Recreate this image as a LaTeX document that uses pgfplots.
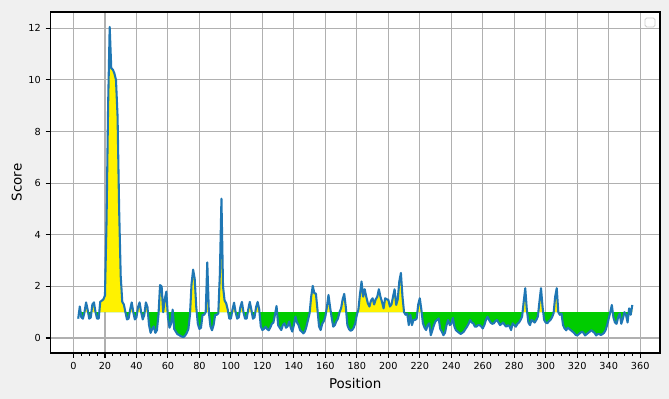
\documentclass[border=0pt]{standalone}
\usepackage{pgfplots}
\pgfplotsset{compat=1.18}
\usepackage{pgfplotstable}
\usepackage{fontspec}
\setmainfont{DejaVu Sans}
\definecolor{mplblue}{HTML}{1F77B4}
\definecolor{figbg}{HTML}{F0F0F0}
\definecolor{gridc}{HTML}{B0B0B0}
\definecolor{fillgreen}{HTML}{00CC00}
\pgfdeclarelayer{figbg}
\pgfplotsset{
  layers/mylayers/.define layer set={figbg,axis background,pre main,main,axis grid,axis ticks,axis lines,axis tick labels,axis descriptions,axis foreground}{},
}

\pgfplotstableread{
x y
3 0.75
4 1.22
5 0.8
6 0.75
7 1.0
8 1.38
9 1.1
10 0.75
11 0.8
12 1.3
13 1.38
14 1.0
15 0.75
16 0.75
17 1.4
18 1.45
19 1.5
20 1.65
21 4.5
22 9.0
23 12.05
24 10.45
25 10.4
26 10.25
27 10.0
28 8.6
29 5.0
30 2.4
31 1.4
32 1.3
33 1.0
34 0.72
35 0.75
36 1.1
37 1.38
38 1.0
39 0.72
40 0.8
41 1.2
42 1.38
43 1.0
44 0.72
45 0.9
46 1.38
47 1.2
48 0.5
49 0.2
50 0.35
51 0.45
52 0.2
53 0.3
54 0.9
55 2.05
56 2.0
57 1.0
58 1.5
59 1.8
60 0.8
61 0.4
62 0.55
63 1.1
64 0.35
65 0.25
66 0.15
67 0.12
68 0.08
69 0.05
70 0.04
71 0.1
72 0.2
73 0.35
74 0.9
75 2.1
76 2.65
77 2.3
78 1.2
79 0.55
80 0.35
81 0.4
82 0.9
83 0.9
84 1.0
85 2.93
86 1.0
87 0.45
88 0.3
89 0.5
90 0.9
91 0.9
92 0.95
93 2.5
94 5.4
95 2.0
96 1.45
97 1.35
98 1.1
99 0.75
100 0.75
101 1.1
102 1.37
103 1.0
104 0.75
105 0.8
106 1.2
107 1.4
108 1.0
109 0.75
110 0.75
111 1.1
112 1.4
113 1.1
114 0.75
115 0.8
116 1.2
117 1.4
118 1.1
119 0.45
120 0.31
121 0.35
122 0.44
123 0.35
124 0.3
125 0.4
126 0.55
127 0.6
128 0.9
129 1.24
130 0.5
131 0.4
132 0.31
133 0.5
134 0.57
135 0.4
136 0.45
137 0.64
138 0.4
139 0.25
140 0.5
141 0.83
142 0.6
143 0.5
144 0.3
145 0.25
146 0.18
147 0.25
148 0.45
149 0.7
150 0.96
151 1.6
152 2.02
153 1.74
154 1.72
155 1.1
156 0.45
157 0.31
158 0.55
159 0.65
160 0.83
161 1.2
162 1.67
163 1.2
164 0.8
165 0.44
166 0.5
167 0.65
168 0.75
169 1.0
170 1.15
171 1.5
172 1.71
173 1.2
174 0.5
175 0.35
176 0.28
177 0.31
178 0.4
179 0.57
180 0.9
181 1.1
182 1.7
183 2.19
184 1.6
185 1.89
186 1.6
187 1.35
188 1.22
189 1.45
190 1.54
191 1.3
192 1.5
193 1.6
194 1.89
195 1.6
196 1.4
197 1.15
198 1.54
199 1.5
200 1.48
201 1.22
202 1.3
203 1.6
204 1.89
205 1.28
206 1.5
207 2.2
208 2.52
209 1.61
210 1.0
211 0.9
212 0.95
213 0.5
214 0.9
215 0.5
216 0.7
217 0.7
218 0.75
219 1.3
220 1.54
221 1.1
222 0.57
223 0.4
224 0.31
225 0.5
226 0.57
227 0.11
228 0.3
229 0.5
230 0.65
231 0.7
232 0.76
233 0.35
234 0.25
235 0.11
236 0.2
237 0.5
238 0.7
239 0.5
240 0.55
241 0.78
242 0.44
243 0.3
244 0.25
245 0.2
246 0.16
247 0.2
248 0.25
249 0.35
250 0.44
251 0.55
252 0.7
253 0.6
254 0.57
255 0.44
256 0.44
257 0.5
258 0.5
259 0.45
260 0.37
261 0.5
262 0.7
263 0.83
264 0.7
265 0.6
266 0.55
267 0.57
268 0.65
269 0.7
270 0.6
271 0.5
272 0.55
273 0.6
274 0.5
275 0.44
276 0.5
277 0.45
278 0.31
279 0.57
280 0.5
281 0.44
282 0.55
283 0.6
284 0.7
285 0.83
286 1.4
287 1.93
288 1.1
289 0.6
290 0.5
291 0.7
292 0.65
293 0.6
294 0.7
295 0.83
296 1.4
297 1.93
298 1.2
299 0.7
300 0.6
301 0.57
302 0.65
303 0.7
304 0.8
305 0.96
306 1.6
307 1.93
308 1.0
309 0.9
310 0.95
311 0.5
312 0.37
313 0.3
314 0.4
315 0.35
316 0.3
317 0.25
318 0.2
319 0.12
320 0.1
321 0.15
322 0.2
323 0.25
324 0.2
325 0.1
326 0.15
327 0.2
328 0.25
329 0.3
330 0.25
331 0.2
332 0.1
333 0.15
334 0.15
335 0.12
336 0.15
337 0.2
338 0.3
339 0.5
340 0.75
341 1.0
342 1.28
343 0.8
344 0.6
345 0.55
346 0.8
347 0.95
348 0.55
349 0.75
350 1.0
351 0.9
352 0.6
353 1.15
354 0.9
355 1.28
}\data

\begin{document}
\begin{tikzpicture}
\begin{axis}[
  at={(0,0)}, anchor=south west, scale only axis,
  width=438.84bp, height=245.52bp,
  set layers=mylayers,
  xmin=-14.6, xmax=372.6, ymin=-0.58, ymax=12.63,
  xtick={0,20,...,360}, minor x tick num=3,
  ytick={0,2,...,12},
  tick align=outside, xtick pos=bottom, ytick pos=left,
  major tick length=3.5bp, minor tick length=2bp,
  every tick/.style={black, line width=0.8pt},
  minor tick style={black, line width=0.6pt},
  axis line style={black, line width=0.8pt},
  grid=major, major grid style={gridc, line width=0.8pt},
  tick label style={font=\fontsize{7}{8}\selectfont},
  /pgf/number format/assume math mode=true,
  /pgf/number format/1000 sep={},
  label style={font=\fontsize{9.7}{11}\selectfont},
  xlabel={Position}, ylabel={Score},
  xlabel style={yshift=1bp},
  ylabel style={yshift=-2bp},
]
\begin{pgfonlayer}{figbg}
\fill[figbg] ([shift={(-40bp,-40bp)}]rel axis cs:0,0) rectangle ([shift={(12bp,12bp)}]rel axis cs:1,1);
\fill[white] (rel axis cs:0,0) rectangle (rel axis cs:1,1);
\end{pgfonlayer}
\begin{scope}
\clip (axis cs:-20,1) rectangle (axis cs:400,13);
\addplot[fill=yellow, draw=none, forget plot] table[x=x,y=y]{\data} -- (axis cs:355,1) -- (axis cs:3,1) -- cycle;
\end{scope}
\begin{scope}
\clip (axis cs:-20,-1) rectangle (axis cs:400,1);
\addplot[fill=fillgreen, draw=none, forget plot] table[x=x,y=y]{\data} -- (axis cs:355,1) -- (axis cs:3,1) -- cycle;
\end{scope}
\addplot[mplblue, line width=1.5pt, line join=round, forget plot, on layer=axis foreground] table[x=x,y=y]{\data};
\draw[draw=black!20, fill=white, rounded corners=1.2bp, line width=0.6pt] ([xshift=-10.8bp,yshift=-4.3bp]rel axis cs:1,1) rectangle ([xshift=-3.6bp,yshift=-10.8bp]rel axis cs:1,1);
\end{axis}
\path (-36.36bp,-33.12bp) rectangle (445.32bp,254.16bp);
\end{tikzpicture}
\end{document}
